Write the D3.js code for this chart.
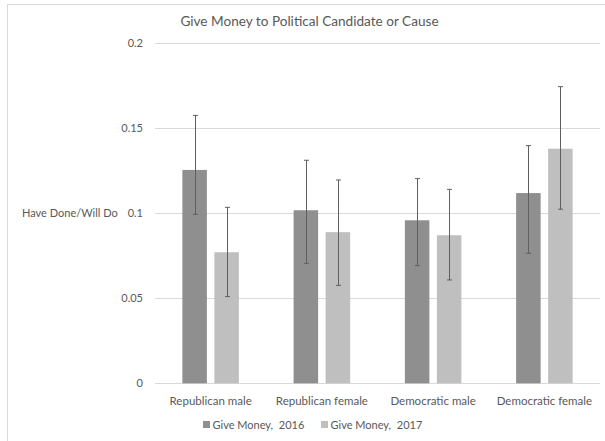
<!DOCTYPE html>
<html>
<head>
<meta charset="utf-8">
<script src="https://cdn.jsdelivr.net/npm/d3@7"></script>
<style>
  html, body { margin: 0; padding: 0; background: #fff; }
  svg { display: block; font-family: Lato, "Open Sans", sans-serif; }
</style>
</head>
<body>
<svg id="chart" width="605" height="441"></svg>
<script>
// Share who have given / will give money, by party and gender
const categories = ["Republican male", "Republican female", "Democratic male", "Democratic female"];
const seriesNames = ["Give Money, 2016", "Give Money, 2017"];
const values2016 = [0.1255, 0.1018, 0.0959, 0.1119];
const values2017 = [0.0771, 0.0889, 0.0871, 0.1380];
const errLow2016 = [0.0994, 0.0706, 0.0692, 0.0765];
const errHigh2016 = [0.1576, 0.1312, 0.1204, 0.1398];
const errLow2017 = [0.0510, 0.0576, 0.0608, 0.1024];
const errHigh2017 = [0.1035, 0.1196, 0.1141, 0.1745];
const yTicks = [0, 0.05, 0.1, 0.15, 0.2];
const yTickLabels = ["0", "0.05", "0.1", "0.15", "0.2"];

const colors = ["#8f8f8f", "#bfbfbf"];
const textColor = "#595959";

const svg = d3.select("#chart");

// outer chart frame
svg.append("rect")
  .attr("x", 7.5).attr("y", 4.5)
  .attr("width", 610).attr("height", 450)
  .attr("fill", "none").attr("stroke", "#d9d9d9");

const plotLeft = 155, plotRight = 600, plotTop = 43.3, plotBottom = 383.3;

const x = d3.scaleBand().domain(categories).range([plotLeft, plotRight]).paddingInner(0).paddingOuter(0);
const xs = d3.scaleBand().domain(seriesNames).range([0, x.bandwidth()]).paddingInner(0.234).paddingOuter(0.855);
const y = d3.scaleLinear().domain([0, 0.2]).range([plotBottom, plotTop]);

// gridlines
svg.append("g").selectAll("line").data(yTicks).join("line")
  .attr("x1", plotLeft).attr("x2", plotRight)
  .attr("y1", d => Math.round(y(d)) + 0.5).attr("y2", d => Math.round(y(d)) + 0.5)
  .attr("stroke", "#d9d9d9").attr("stroke-width", 1);

// y tick labels
const yAxis = d3.axisLeft(y).tickValues(yTicks).tickFormat((d, i) => yTickLabels[i]).tickSize(0).tickPadding(12);
const gy = svg.append("g").attr("transform", `translate(${plotLeft},0)`).call(yAxis);
gy.select(".domain").remove();
gy.selectAll("text").attr("fill", textColor).attr("font-size", 11).attr("font-family", "Lato, sans-serif");

// y axis title
svg.append("text")
  .attr("x", 22).attr("y", y(0.1) + 4)
  .attr("fill", textColor).attr("font-size", 11)
  .text("Have Done/Will Do");

// bars
const series = [
  { name: seriesNames[0], values: values2016, lo: errLow2016, hi: errHigh2016, color: colors[0] },
  { name: seriesNames[1], values: values2017, lo: errLow2017, hi: errHigh2017, color: colors[1] }
];

const barsG = svg.append("g");
series.forEach(s => {
  barsG.append("g").selectAll("rect").data(categories).join("rect")
    .attr("x", c => x(c) + xs(s.name))
    .attr("width", xs.bandwidth())
    .attr("y", (c, i) => y(s.values[i]))
    .attr("height", (c, i) => y(0) - y(s.values[i]))
    .attr("fill", s.color);
});

// error bars
const errG = svg.append("g").attr("stroke", "#5f5f5f").attr("stroke-width", 1);
series.forEach(s => {
  categories.forEach((c, i) => {
    const cx = Math.round(x(c) + xs(s.name) + xs.bandwidth() / 2) + 0.5;
    const y1 = y(s.hi[i]), y2 = y(s.lo[i]);
    errG.append("line").attr("x1", cx).attr("x2", cx).attr("y1", y1).attr("y2", y2);
    errG.append("line").attr("x1", cx - 2.5).attr("x2", cx + 2.5).attr("y1", y1).attr("y2", y1);
    errG.append("line").attr("x1", cx - 2.5).attr("x2", cx + 2.5).attr("y1", y2).attr("y2", y2);
  });
});

// x axis category labels
const xAxis = d3.axisBottom(x).tickSize(0).tickPadding(14);
const gx = svg.append("g").attr("transform", `translate(0,${plotBottom})`).call(xAxis);
gx.select(".domain").remove();
gx.selectAll("text").attr("fill", textColor).attr("font-size", 11.5).attr("font-family", "Lato, sans-serif");

// title
svg.append("text")
  .attr("x", 309.5).attr("y", 26)
  .attr("text-anchor", "middle")
  .attr("fill", textColor).attr("font-size", 13.6)
  .text("Give Money to Political Candidate or Cause");

// legend
const legendX = [203, 321];
const legend = svg.append("g");
series.forEach((s, i) => {
  const g = legend.append("g").attr("transform", `translate(${legendX[i]},421)`);
  g.append("rect").attr("x", 0).attr("y", 0).attr("width", 7).attr("height", 7).attr("fill", s.color);
  g.append("text").attr("x", 9.5).attr("y", 7.5)
    .attr("fill", textColor).attr("font-size", 11)
    .text(s.name.replace(", ", ",\u00a0 "));
});
</script>
</body>
</html>
